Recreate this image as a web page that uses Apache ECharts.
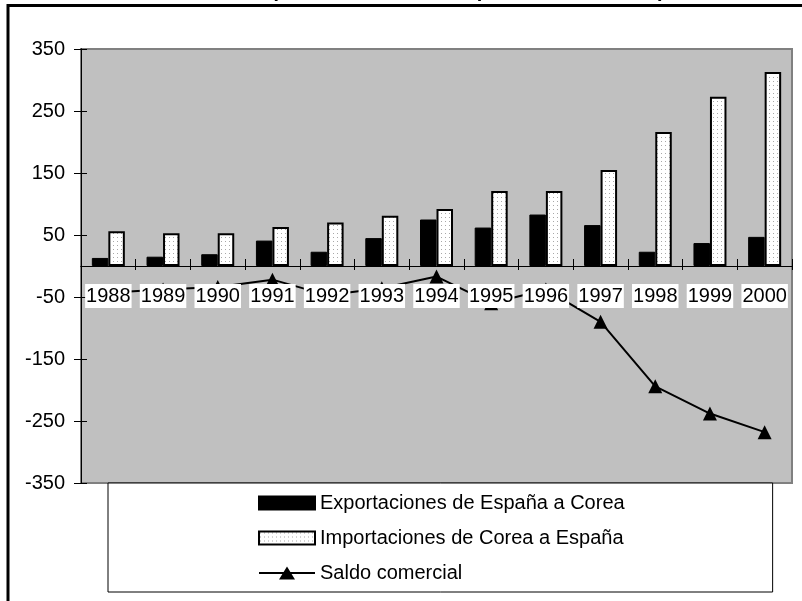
<!DOCTYPE html>
<html>
<head>
<meta charset="utf-8">
<script src="https://cdn.jsdelivr.net/npm/echarts@6/dist/echarts.min.js"></script>
<style>
html,body{margin:0;padding:0;background:#fff;}
#c{width:802px;height:601px;}
</style>
</head>
<body>
<div id="c"></div>
<script>
const years = ['1988','1989','1990','1991','1992','1993','1994','1995','1996','1997','1998','1999','2000'];
const exportaciones = [13, 15, 19, 41, 23, 45, 75, 62, 83, 66, 23, 37, 47];
const importaciones = [56, 53, 53, 63, 70, 81, 92, 121, 121, 155, 216, 273, 313];
const saldo = [-43, -38, -34, -22, -47, -36, -17, -60, -38, -90, -194, -238, -268];
const yTicks = [-350, -250, -150, -50, 50, 150, 250, 350];
const seriesNames = ['Exportaciones de España a Corea', 'Importaciones de Corea a España', 'Saldo comercial'];
const titleText = '(Miles de Millones de pesetas, 1988-2000)';

const FONT = '"Liberation Sans", Arial, sans-serif';
const FS = 20;

// dotted fill pattern for the import bars
const pc = document.createElement('canvas');
pc.width = 4; pc.height = 4;
const pctx = pc.getContext('2d');
pctx.fillStyle = '#ffffff'; pctx.fillRect(0, 0, 4, 4);
pctx.fillStyle = '#a8a8a8'; pctx.fillRect(1, 1, 1, 1);

// legend icon for the line series: a line with a triangle in the middle
const lineTriangleIcon = 'path://M0,5.5 L56,5.5 L56,7.5 L0,7.5 Z M20,13 L28,0 L36,13 Z';

const chart = echarts.init(document.getElementById('c'), null, {renderer: 'canvas'});
chart.setOption({
  animation: false,
  backgroundColor: '#ffffff',
  textStyle: {fontFamily: FONT},
  graphic: [
    {type: 'rect', z: 100, silent: true,
     shape: {x: 8, y: 5.5, width: 1000, height: 1000},
     style: {fill: null, stroke: '#000', lineWidth: 3}},
    {type: 'text', z: 99, silent: true,
     style: {text: titleText, x: 468, y: 1, textAlign: 'center', textVerticalAlign: 'bottom',
             font: 'bold ' + FS + 'px ' + FONT, fill: '#000'}}
  ],
  grid: [
    {
      left: 81, top: 49, right: 10, bottom: 118,
      show: true, backgroundColor: '#c0c0c0', borderColor: '#808080', borderWidth: 2
    },
    {
      // upper half of the plot: its bottom edge is the zero line, used to hang the year labels
      left: 81, top: 49, right: 10, bottom: 335, show: false
    }
  ],
  legend: {
    orient: 'vertical', left: 108, top: 483,
    padding: [10, 148, 9, 150],
    itemWidth: 56, itemHeight: 13, itemGap: 15,
    borderColor: '#000', borderWidth: 1, backgroundColor: '#fff',
    selectedMode: false,
    textStyle: {fontSize: FS, color: '#000', fontFamily: FONT},
    data: [
      {name: seriesNames[0], icon: 'rect'},
      {name: seriesNames[1], icon: 'rect'},
      {name: seriesNames[2], icon: lineTriangleIcon, itemStyle: {color: '#000', borderWidth: 0}}
    ]
  },
  xAxis: [
    {
      gridIndex: 0, type: 'category', data: years, z: 4, position: 'bottom',
      axisLine: {show: true, onZero: true, lineStyle: {color: '#000', width: 1}},
      axisTick: {show: true, inside: true, length: 7, lineStyle: {color: '#000'}},
      axisLabel: {show: false},
      splitLine: {show: false}
    },
    {
      gridIndex: 1, type: 'category', data: years, z: 5, position: 'bottom',
      axisLine: {show: true, onZero: false, lineStyle: {color: '#000', width: 1}},
      axisTick: {show: true, length: 4, lineStyle: {color: '#000'}},
      axisLabel: {
        interval: 0, margin: 18, fontSize: FS, color: '#000', fontFamily: FONT,
        backgroundColor: '#fff', padding: [2, 1, 2, 1], lineHeight: 20
      },
      splitLine: {show: false}
    }
  ],
  yAxis: [
    {
      gridIndex: 0, type: 'value', min: -350, max: 350, position: 'left', z: 4,
      axisLine: {show: true, lineStyle: {color: '#000', width: 1}},
      axisTick: {show: true, length: 7, customValues: yTicks, lineStyle: {color: '#000'}},
      axisLabel: {customValues: yTicks, margin: 16, fontSize: FS, color: '#000', fontFamily: FONT},
      splitLine: {show: false}
    },
    {
      gridIndex: 0, type: 'value', min: -350, max: 350, position: 'left', offset: 0, z: 4,
      axisLine: {show: true, onZero: false, lineStyle: {color: '#000', width: 1}},
      axisTick: {show: true, inside: true, length: 6, customValues: yTicks, lineStyle: {color: '#000'}},
      axisLabel: {show: false, customValues: yTicks},
      splitLine: {show: false}
    },
    {
      gridIndex: 1, type: 'value', min: 0, max: 350, show: false
    }
  ],
  series: [
    {
      name: seriesNames[0], type: 'bar', data: exportaciones,
      barWidth: 16.5, barGap: '0%',
      itemStyle: {color: '#000', borderColor: '#000', borderWidth: 1}
    },
    {
      name: seriesNames[1], type: 'bar', data: importaciones,
      barWidth: 16.5, barGap: '0%',
      itemStyle: {color: {image: pc, repeat: 'repeat'}, borderColor: '#000', borderWidth: 2}
    },
    {
      name: seriesNames[2], type: 'line', data: saldo,
      symbol: 'triangle', symbolSize: 14,
      lineStyle: {color: '#000', width: 2},
      itemStyle: {color: '#000'}
    }
  ]
});
</script>
</body>
</html>
